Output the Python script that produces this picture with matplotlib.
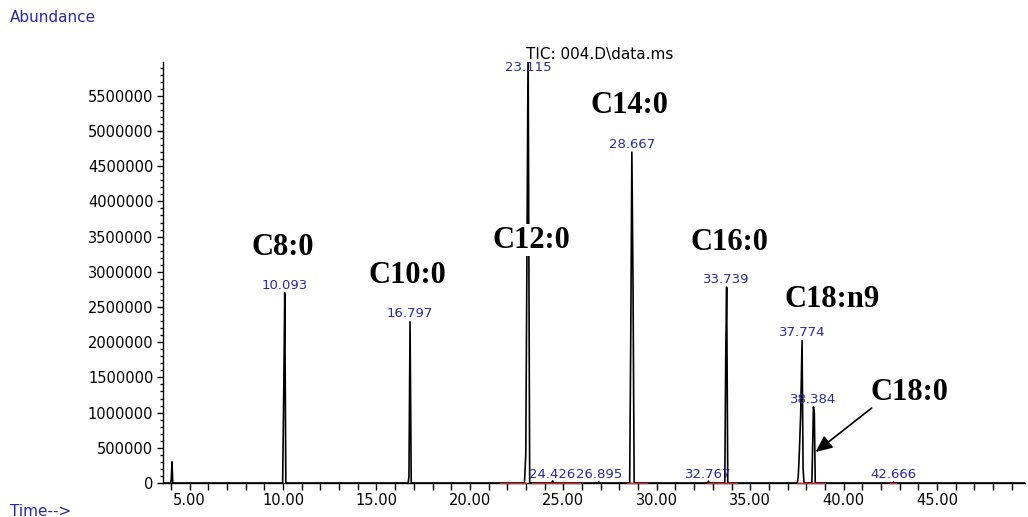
import numpy as np
import matplotlib
matplotlib.use("Agg")
import matplotlib.pyplot as plt
from matplotlib.ticker import MultipleLocator, FormatStrFormatter

# TIC trace, scan times (min) and abundances
scan_time = [3.58, 3.98, 4.02, 4.06, 4.10,
             9.98, 10.04, 10.093, 10.15,
             16.70, 16.74, 16.797, 16.86,
             22.92, 22.99, 23.05, 23.115, 23.20,
             24.38, 24.426, 24.47,
             26.85, 26.895, 26.94,
             28.55, 28.61, 28.667, 28.73, 28.79,
             32.72, 32.767, 32.81,
             33.64, 33.69, 33.739, 33.80,
             37.52, 37.57, 37.62, 37.70, 37.774, 37.83, 37.88,
             38.30, 38.384, 38.43, 38.48,
             42.62, 42.666, 42.71, 49.70]
scan_abund = [0, 0, 50000, 300000, 0,
              0, 1320000, 2700000, 0,
              0, 100000, 2290000, 0,
              0, 400000, 3100000, 6200000, 0,
              0, 30000, 0,
              0, 20000, 0,
              0, 2170000, 4700000, 2800000, 0,
              0, 25000, 0,
              0, 1780000, 2780000, 0,
              0, 90000, 370000, 970000, 2020000, 200000, 0,
              0, 1080000, 1000000, 0,
              0, 15000, 0, 0]

# labelled retention times
peak_rt = [10.093, 16.797, 23.115, 28.667, 33.739, 37.774, 38.384]
peak_height = [2700000, 2290000, 6200000, 4700000, 2780000, 2020000, 1080000]
minor_rt = [24.426, 26.895, 32.767, 42.666]

# integration baselines
baseline_segments = [(21.6, 23.0), (23.3, 25.9), (28.4, 29.5),
                     (32.7, 34.3), (37.5, 39.0), (42.5, 42.8)]

# fatty acid names and where they are written
fa_names = ["C8:0", "C10:0", "C12:0", "C14:0", "C16:0", "C18:n9", "C18:0"]
fa_pos = [(10.0, 3.34e6), (16.68, 2.95e6), (23.3, 3.45e6), (28.56, 5.36e6),
          (33.9, 3.41e6), (39.41, 2.60e6), (43.53, 1.28e6)]

BLUE = "#2a2aa0"
YMAX = 5.98e6

fig = plt.figure(figsize=(10.28, 5.17), dpi=100)
ax = fig.add_axes([0.1586, 0.0658, 0.8384, 0.8142])

ax.plot(scan_time, scan_abund, color="black", lw=1.2, zorder=3)

for a, b in baseline_segments:
    ax.plot([a, b], [0, 0], color="#c83030", lw=1.0, zorder=4, clip_on=False)

for rt, h in zip(peak_rt, peak_height):
    if h >= YMAX:
        ax.text(rt, YMAX * 1.002, f"{rt:.3f}", color=BLUE, fontsize=9.5,
                ha="center", va="top", zorder=4)
    else:
        ax.text(rt, h + 20000, f"{rt:.3f}", color=BLUE, fontsize=9.5,
                ha="center", va="bottom", zorder=4)

for rt in minor_rt:
    ax.text(rt, 30000, f"{rt:.3f}", color=BLUE, fontsize=9.5,
            ha="center", va="bottom", zorder=4)

for name, (x, y) in zip(fa_names, fa_pos):
    kw = {}
    if name == "C12:0":
        kw["bbox"] = dict(facecolor="white", edgecolor="none", pad=1)
    ax.text(x, y, name, family="Liberation Serif", fontweight="bold",
            fontsize=22, ha="center", va="center", zorder=5, **kw)

ax.annotate("", xy=(38.5, 0.44e6), xytext=(41.5, 1.065e6),
            arrowprops=dict(arrowstyle="-|>,head_length=1.0,head_width=0.45",
                            color="black", lw=1.2, shrinkA=0, shrinkB=0),
            zorder=5)

ax.set_xlim(3.58, 49.7)
ax.set_ylim(0, YMAX)

for s in ["top", "right"]:
    ax.spines[s].set_visible(False)
for s in ["left", "bottom"]:
    ax.spines[s].set_linewidth(1.0)

ax.xaxis.set_major_locator(MultipleLocator(5))
ax.xaxis.set_minor_locator(MultipleLocator(1))
ax.xaxis.set_major_formatter(FormatStrFormatter("%.2f"))
ax.yaxis.set_major_locator(MultipleLocator(500000))
ax.yaxis.set_minor_locator(MultipleLocator(100000))
ax.yaxis.set_major_formatter(FormatStrFormatter("%d"))
ax.tick_params(axis="x", which="major", length=5, width=1, labelsize=10.5, pad=2)
ax.tick_params(axis="x", which="minor", length=5, width=1)
ax.tick_params(axis="y", which="major", length=4, width=1, labelsize=10.5, pad=3)
ax.tick_params(axis="y", which="minor", length=2, width=1)

fig.text(600 / 1028, 1 - 54 / 517, "TIC: 004.D\\data.ms", fontsize=11,
         ha="center", va="center")
fig.text(10 / 1028, 1 - 18 / 517, "Abundance", color=BLUE, fontsize=11,
         ha="left", va="center")
fig.text(10 / 1028, 1 - 511 / 517, "Time-->", color=BLUE, fontsize=11,
         ha="left", va="center")

fig.savefig("out.png", dpi=100)
